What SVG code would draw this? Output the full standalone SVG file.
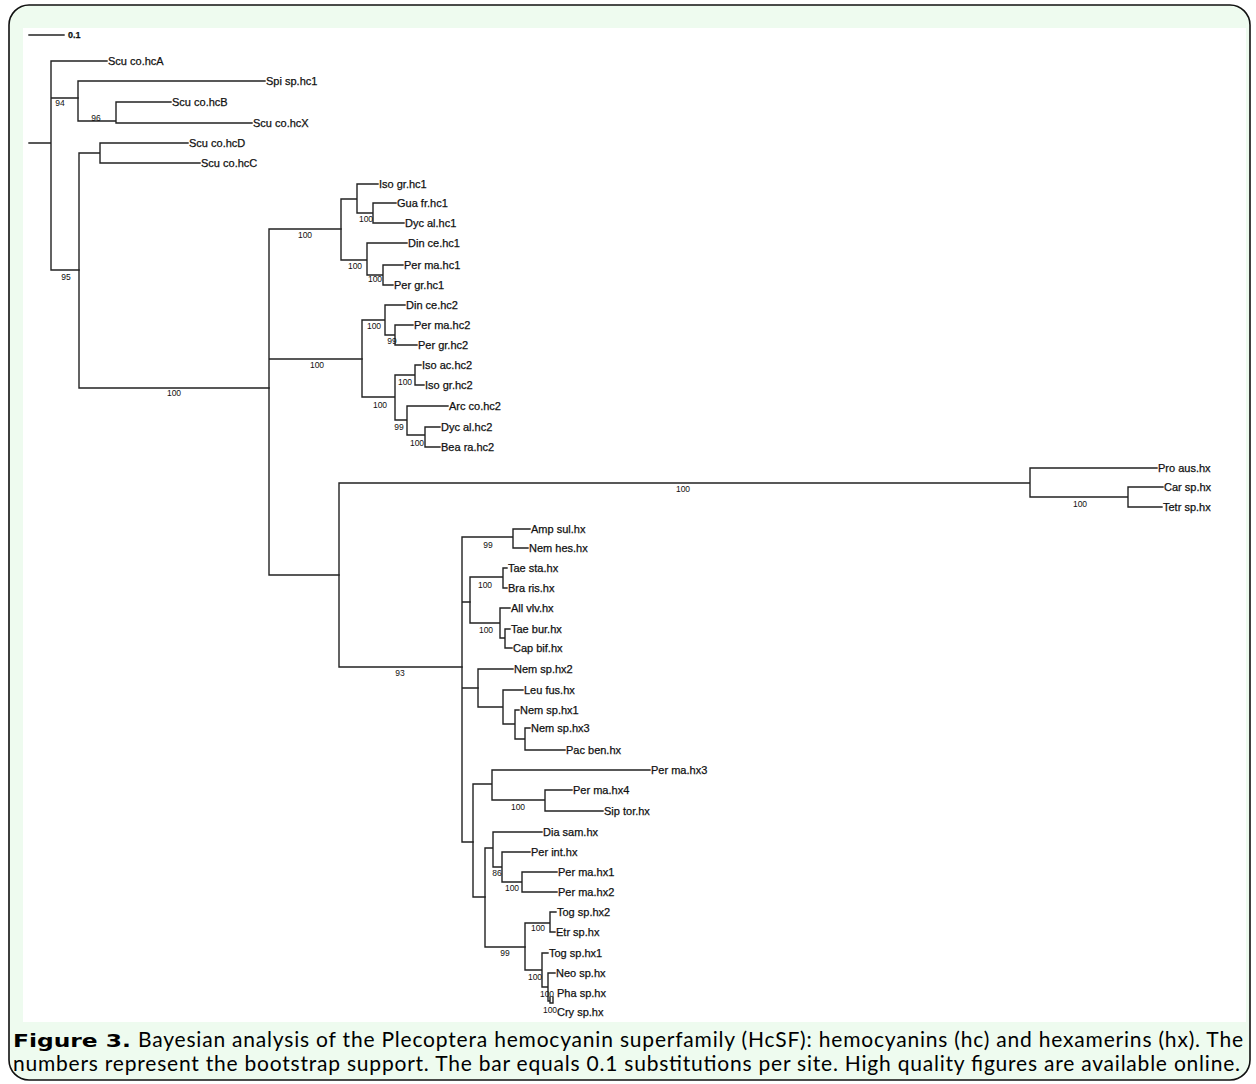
<svg xmlns="http://www.w3.org/2000/svg" width="1256" height="1084" viewBox="0 0 1256 1084">
<style>
.br{fill:none;stroke:#222;stroke-width:1.4;stroke-linecap:square}
.lf{font-family:"Liberation Sans",Arial,sans-serif;font-size:11px;fill:#111;stroke:#111;stroke-width:0.25}
.bs{font-family:"Liberation Sans",Arial,sans-serif;font-size:8.5px;fill:#111;text-anchor:middle}
.cap{font-family:Lato,"Open Sans",sans-serif;font-size:21px;fill:#000}
.fig{font-family:"DejaVu Sans",Verdana,sans-serif;font-weight:bold;font-size:17px;fill:#000}
</style>
<rect x="0" y="0" width="1256" height="1084" fill="#ffffff"/>
<rect id="frame" x="9" y="5" width="1241" height="1075" rx="20" ry="20" fill="#eefbef" stroke="#111" stroke-width="1.6"/>
<rect id="plot" x="23" y="28" width="1223" height="994" fill="#ffffff"/>

<g id="scalebar">
<path class="br" d="M29,35 H64"/>
<text class="lf" x="68" y="38" style="font-size:9px;font-weight:bold">0.1</text>
</g>

<g id="connectors">
<path class="br" d="M29,143 H51 M51,61 V270 M51,61 H107 M51,98 H78 M51,270 H79"/>
<path class="br" d="M78,81 V121 M78,81 H265 M78,121 H116 M116,102 V123 M116,102 H171 M116,123 H252"/>
<path class="br" d="M79,153 V388 M79,153 H100 M79,388 H269 M100,143 V163 M100,143 H188 M100,163 H200"/>
<path class="br" d="M269,229 V575 M269,229 H341 M269,359 H362 M269,575 H339"/>
<path class="br" d="M341,199 V260 M341,199 H357 M341,260 H367 M357,184 V213 M357,184 H378 M357,213 H373 M373,203 V223 M373,203 H396 M373,223 H404 M367,243 V275 M367,243 H407 M367,275 H383 M383,265 V285 M383,265 H403 M383,285 H393"/>
<path class="br" d="M362,320 V397 M362,320 H385 M362,397 H395 M385,305 V335 M385,305 H405 M385,335 H395 M395,325 V345 M395,325 H413 M395,345 H417 M395,375 V420 M395,375 H415 M395,420 H407 M415,365 V385 M415,365 H421 M415,385 H424 M407,406 V435 M407,406 H448 M407,435 H425 M425,427 V447 M425,427 H440 M425,447 H440"/>
<path class="br" d="M339,483 V667 M339,483 H1030 M339,667 H462 M1030,468 V497 M1030,468 H1157 M1030,497 H1128 M1128,487 V507 M1128,487 H1163 M1128,507 H1162"/>
<path class="br" d="M462,537 V842 M462,537 H513 M462,602 H470 M462,688 H478 M462,842 H473 M513,529 V548 M513,529 H530 M513,548 H528"/>
<path class="br" d="M470,577 V623 M470,577 H503 M470,623 H500 M503,568 V588 M503,568 H507 M503,588 H507 M500,608 V638 M500,608 H510 M500,638 H505 M505,629 V648 M505,629 H510 M505,648 H512"/>
<path class="br" d="M478,669 V707 M478,669 H513 M478,707 H503 M503,690 V724 M503,690 H523 M503,724 H515 M515,710 V739 M515,710 H519 M515,739 H525 M525,728 V750 M525,728 H530 M525,750 H565"/>
<path class="br" d="M473,784 V897 M473,784 H492 M473,897 H485 M492,770 V800 M492,770 H650 M492,800 H545 M545,790 V811 M545,790 H572 M545,811 H603"/>
<path class="br" d="M485,848 V947 M485,848 H493 M485,947 H525 M493,832 V867 M493,832 H542 M493,867 H502 M502,852 V882 M502,852 H530 M502,882 H522 M522,872 V892 M522,872 H557 M522,892 H557"/>
<path class="br" d="M525,923 V970 M525,923 H550 M525,970 H542 M550,912 V932 M550,912 H556 M550,932 H555 M542,953 V987 M542,953 H548 M542,987 H548 M548,973 V1001 M548,973 H555 M548,1001 H550 M550,997 V1003 H553 V997"/>
</g>

<g id="support">
<text class="bs" x="60" y="106">94</text>
<text class="bs" x="96" y="121">96</text>
<text class="bs" x="66" y="280">95</text>
<text class="bs" x="174" y="396">100</text>
<text class="bs" x="305" y="238">100</text>
<text class="bs" x="317" y="368">100</text>
<text class="bs" x="366" y="222">100</text>
<text class="bs" x="355" y="269">100</text>
<text class="bs" x="375" y="282">100</text>
<text class="bs" x="374" y="329">100</text>
<text class="bs" x="392" y="344">99</text>
<text class="bs" x="380" y="408">100</text>
<text class="bs" x="405" y="385">100</text>
<text class="bs" x="399" y="430">99</text>
<text class="bs" x="417" y="446">100</text>
<text class="bs" x="683" y="492">100</text>
<text class="bs" x="1080" y="507">100</text>
<text class="bs" x="400" y="676">93</text>
<text class="bs" x="488" y="548">99</text>
<text class="bs" x="485" y="588">100</text>
<text class="bs" x="486" y="633">100</text>
<text class="bs" x="518" y="810">100</text>
<text class="bs" x="497" y="876">86</text>
<text class="bs" x="512" y="891">100</text>
<text class="bs" x="505" y="956">99</text>
<text class="bs" x="538" y="931">100</text>
<text class="bs" x="535" y="980">100</text>
<text class="bs" x="547" y="997">100</text>
<text class="bs" x="550" y="1013">100</text>
</g>

<g id="leaf-ScuA"><text class="lf" x="108" y="65">Scu co.hcA</text></g>
<g id="leaf-Spi"><text class="lf" x="266" y="85">Spi sp.hc1</text></g>
<g id="leaf-ScuB"><text class="lf" x="172" y="106">Scu co.hcB</text></g>
<g id="leaf-ScuX"><text class="lf" x="253" y="127">Scu co.hcX</text></g>
<g id="leaf-ScuD"><text class="lf" x="189" y="147">Scu co.hcD</text></g>
<g id="leaf-ScuC"><text class="lf" x="201" y="167">Scu co.hcC</text></g>
<g id="leaf-IsoGrHc1"><text class="lf" x="379" y="188">Iso gr.hc1</text></g>
<g id="leaf-GuaFrHc1"><text class="lf" x="397" y="207">Gua fr.hc1</text></g>
<g id="leaf-DycAlHc1"><text class="lf" x="405" y="227">Dyc al.hc1</text></g>
<g id="leaf-DinCeHc1"><text class="lf" x="408" y="247">Din ce.hc1</text></g>
<g id="leaf-PerMaHc1"><text class="lf" x="404" y="269">Per ma.hc1</text></g>
<g id="leaf-PerGrHc1"><text class="lf" x="394" y="289">Per gr.hc1</text></g>
<g id="leaf-DinCeHc2"><text class="lf" x="406" y="309">Din ce.hc2</text></g>
<g id="leaf-PerMaHc2"><text class="lf" x="414" y="329">Per ma.hc2</text></g>
<g id="leaf-PerGrHc2"><text class="lf" x="418" y="349">Per gr.hc2</text></g>
<g id="leaf-IsoAcHc2"><text class="lf" x="422" y="369">Iso ac.hc2</text></g>
<g id="leaf-IsoGrHc2"><text class="lf" x="425" y="389">Iso gr.hc2</text></g>
<g id="leaf-ArcCoHc2"><text class="lf" x="449" y="410">Arc co.hc2</text></g>
<g id="leaf-DycAlHc2"><text class="lf" x="441" y="431">Dyc al.hc2</text></g>
<g id="leaf-BeaRaHc2"><text class="lf" x="441" y="451">Bea ra.hc2</text></g>
<g id="leaf-ProAus"><text class="lf" x="1158" y="472">Pro aus.hx</text></g>
<g id="leaf-CarSp"><text class="lf" x="1164" y="491">Car sp.hx</text></g>
<g id="leaf-TetrSp"><text class="lf" x="1163" y="511">Tetr sp.hx</text></g>
<g id="leaf-AmpSul"><text class="lf" x="531" y="533">Amp sul.hx</text></g>
<g id="leaf-NemHes"><text class="lf" x="529" y="552">Nem hes.hx</text></g>
<g id="leaf-TaeSta"><text class="lf" x="508" y="572">Tae sta.hx</text></g>
<g id="leaf-BraRis"><text class="lf" x="508" y="592">Bra ris.hx</text></g>
<g id="leaf-AllVlv"><text class="lf" x="511" y="612">All vlv.hx</text></g>
<g id="leaf-TaeBur"><text class="lf" x="511" y="633">Tae bur.hx</text></g>
<g id="leaf-CapBif"><text class="lf" x="513" y="652">Cap bif.hx</text></g>
<g id="leaf-NemSpHx2"><text class="lf" x="514" y="673">Nem sp.hx2</text></g>
<g id="leaf-LeuFus"><text class="lf" x="524" y="694">Leu fus.hx</text></g>
<g id="leaf-NemSpHx1"><text class="lf" x="520" y="714">Nem sp.hx1</text></g>
<g id="leaf-NemSpHx3"><text class="lf" x="531" y="732">Nem sp.hx3</text></g>
<g id="leaf-PacBen"><text class="lf" x="566" y="754">Pac ben.hx</text></g>
<g id="leaf-PerMaHx3"><text class="lf" x="651" y="774">Per ma.hx3</text></g>
<g id="leaf-PerMaHx4"><text class="lf" x="573" y="794">Per ma.hx4</text></g>
<g id="leaf-SipTor"><text class="lf" x="604" y="815">Sip tor.hx</text></g>
<g id="leaf-DiaSam"><text class="lf" x="543" y="836">Dia sam.hx</text></g>
<g id="leaf-PerInt"><text class="lf" x="531" y="856">Per int.hx</text></g>
<g id="leaf-PerMaHx1"><text class="lf" x="558" y="876">Per ma.hx1</text></g>
<g id="leaf-PerMaHx2"><text class="lf" x="558" y="896">Per ma.hx2</text></g>
<g id="leaf-TogSpHx2"><text class="lf" x="557" y="916">Tog sp.hx2</text></g>
<g id="leaf-EtrSp"><text class="lf" x="556" y="936">Etr sp.hx</text></g>
<g id="leaf-TogSpHx1"><text class="lf" x="549" y="957">Tog sp.hx1</text></g>
<g id="leaf-NeoSp"><text class="lf" x="556" y="977">Neo sp.hx</text></g>
<g id="leaf-PhaSp"><text class="lf" x="557" y="997">Pha sp.hx</text></g>
<g id="leaf-CrySp"><text class="lf" x="557" y="1016">Cry sp.hx</text></g>

<g id="caption">
<text class="fig" x="13" y="1047" textLength="118" lengthAdjust="spacingAndGlyphs">Figure 3.</text>
<text class="cap" x="138" y="1047" textLength="1105" lengthAdjust="spacing">Bayesian analysis of the Plecoptera hemocyanin superfamily (HcSF): hemocyanins (hc) and hexamerins (hx). The</text>
<text class="cap" x="13" y="1071" textLength="1227" lengthAdjust="spacing">numbers represent the bootstrap support. The bar equals 0.1 substitutions per site. High quality figures are available online.</text>
</g>
</svg>
